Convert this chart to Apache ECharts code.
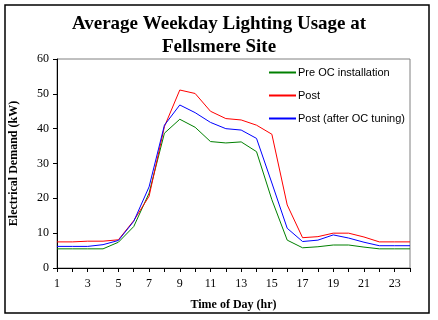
<!DOCTYPE html>
<html>
<head>
<meta charset="utf-8">
<script src="https://cdn.jsdelivr.net/npm/echarts@6/dist/echarts.min.js"></script>
<style>
  html, body { margin: 0; padding: 0; background: #fff; }
  #chart { width: 438px; height: 320px; }
</style>
</head>
<body>
<div id="chart"></div>
<script>
// hours of the day
const hours = ['1','2','3','4','5','6','7','8','9','10','11','12','13','14','15','16','17','18','19','20','21','22','23','24']

// kW
const preOC = [5.5, 5.5, 5.5, 5.5, 7.4, 11.9, 21.5, 38.7, 42.7, 40.4, 36.3, 35.9, 36.2, 33.4, 19.6, 8.0, 5.8, 6.1, 6.6, 6.6, 6.0, 5.5, 5.5, 5.5]
const post = [7.5, 7.5, 7.7, 7.7, 8.1, 13.6, 20.6, 40.6, 51.1, 50.1, 45.0, 42.9, 42.5, 41.0, 38.4, 18.1, 8.7, 9.0, 10.0, 10.0, 8.9, 7.5, 7.5, 7.5]
const postTuned = [6.2, 6.2, 6.2, 6.7, 7.9, 13.4, 23.3, 41.0, 46.8, 44.6, 41.8, 40.0, 39.6, 37.2, 24.4, 11.4, 7.6, 8.0, 9.5, 8.6, 7.4, 6.4, 6.4, 6.4]

const serif = '"Liberation Serif", "Times New Roman", serif'
const sans = '"Liberation Sans", Arial, sans-serif'

const chart = echarts.init(document.getElementById('chart'), null, { renderer: 'canvas' })

chart.setOption({
  animation: false,
  backgroundColor: '#fff',
  title: {
    text: 'Average Weekday Lighting Usage at\nFellsmere Site',
    left: 'center',
    top: 8,
    textStyle: { fontFamily: serif, fontWeight: 'bold', fontSize: 19, lineHeight: 23, color: '#000' }
  },
  graphic: [{
    type: 'rect',
    shape: { x: 5, y: 5, width: 424, height: 308 },
    style: { fill: null, stroke: '#000', lineWidth: 1.5 },
    silent: true
  }],
  legend: {
    orient: 'vertical',
    left: 269,
    top: 67,
    padding: 0,
    itemWidth: 27,
    itemHeight: 2,
    itemGap: 12,
    icon: 'rect',
    textStyle: { fontFamily: sans, fontSize: 11, color: '#000', padding: [0, 0, 0, -3] },
    data: ['Pre OC installation', 'Post', 'Post (after OC tuning)']
  },
  grid: {
    left: 57, right: 28, top: 59, bottom: 52,
    show: true, borderColor: '#808080', borderWidth: 1
  },
  xAxis: {
    type: 'category',
    data: hours,
    boundaryGap: false,
    name: 'Time of Day (hr)',
    nameLocation: 'middle',
    nameGap: 31,
    nameTextStyle: { fontFamily: serif, fontWeight: 'bold', fontSize: 12, color: '#000' },
    axisLine: { lineStyle: { color: '#000', width: 1 } },
    axisTick: { show: true, interval: 0, length: 4, lineStyle: { color: '#000' } },
    axisLabel: { interval: 1, margin: 10, fontFamily: serif, fontSize: 12, color: '#000' },
    splitLine: { show: false }
  },
  yAxis: {
    type: 'value',
    min: 0, max: 60, interval: 10,
    name: 'Electrical Demand (kW)',
    nameLocation: 'middle',
    nameGap: 37,
    nameTextStyle: { fontFamily: serif, fontWeight: 'bold', fontSize: 12, color: '#000' },
    axisLine: { show: true, lineStyle: { color: '#000', width: 1 } },
    axisTick: { show: true, length: 4, lineStyle: { color: '#000' } },
    axisLabel: { margin: 8, fontFamily: serif, fontSize: 12, color: '#000' },
    splitLine: { show: false }
  },
  series: [
    { name: 'Pre OC installation', type: 'line', data: preOC, showSymbol: false, color: '#008000', lineStyle: { width: 1 } },
    { name: 'Post', type: 'line', data: post, showSymbol: false, color: '#ff0000', lineStyle: { width: 1 } },
    { name: 'Post (after OC tuning)', type: 'line', data: postTuned, showSymbol: false, color: '#0000ff', lineStyle: { width: 1 } }
  ]
})
</script>
</body>
</html>
